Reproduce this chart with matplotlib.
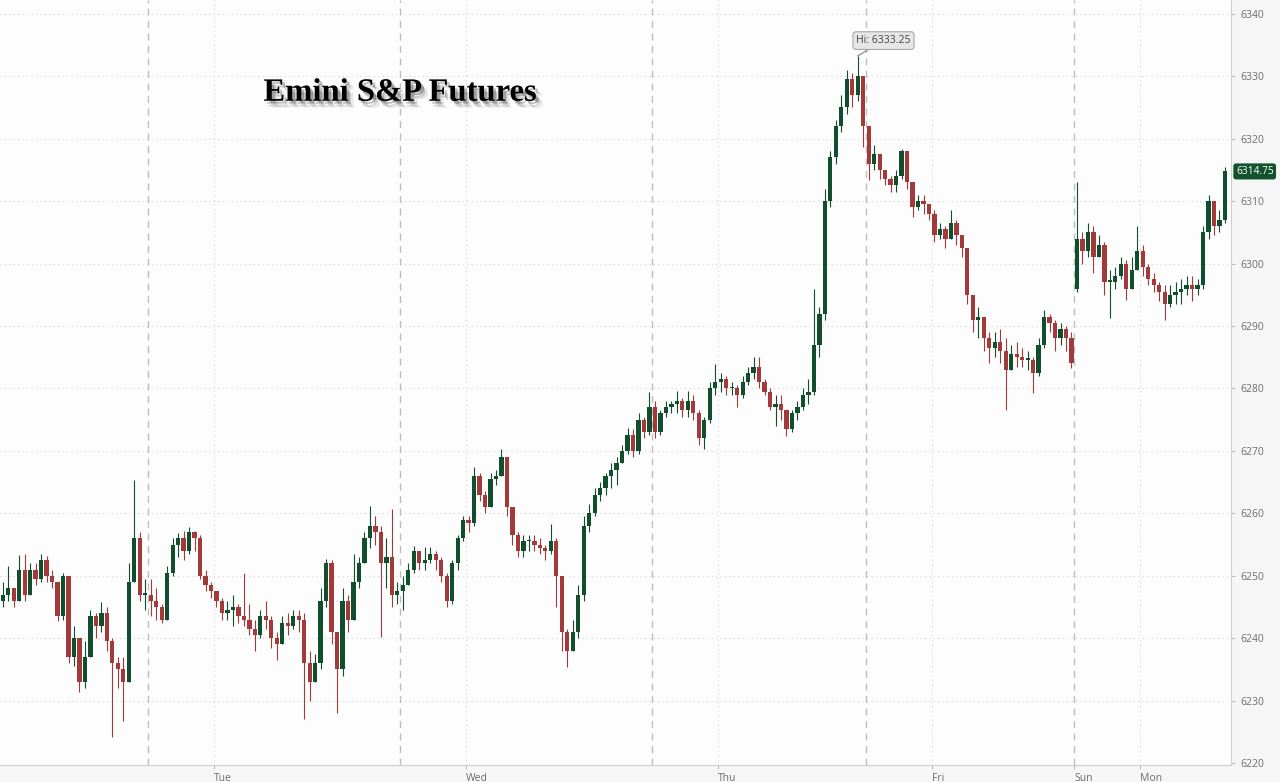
import numpy as np
import matplotlib
matplotlib.use("Agg")
import matplotlib.pyplot as plt
import matplotlib.patheffects as pe

# 30-minute bars, Mon 04:30 ET -> Mon 08:30 ET (holiday week, compressed trading time)
closes = [
    6247, 6248, 6246, 6251, 6247, 6251, 6249.5, 6252.5, 6250, 6249, 6243.5, 6250, 6237, 6240,
    6233, 6237, 6243.5, 6242, 6244, 6239.5, 6236, 6235, 6233, 6249, 6256, 6247, 6247,
    # Tue session
    6246, 6245, 6243, 6250.5, 6255, 6256, 6254, 6257, 6256, 6250, 6248.5, 6247.5, 6246, 6244,
    6244.5, 6245, 6243.5, 6243, 6241.5, 6240.5, 6243.5, 6243, 6240, 6239, 6242.5, 6242, 6243.5,
    6243, 6236, 6233, 6236, 6246, 6252, 6241, 6235, 6246, 6243, 6249, 6252, 6256, 6258, 6257,
    6252, 6253, 6247, 6247.5,
    # Wed session
    6248.5, 6251, 6254, 6252, 6252.5, 6253.5, 6252.5, 6250, 6246, 6252, 6256, 6259, 6258.5, 6266,
    6263, 6261, 6265.5, 6266, 6269, 6261, 6256.5, 6254, 6255.5, 6255.5, 6255, 6254.5, 6254,
    6255.5, 6250, 6241, 6238, 6241, 6247, 6258, 6260, 6263, 6264, 6266, 6267, 6268, 6270, 6272.5,
    6270, 6275, 6273, 6277,
    # Thu session
    6273, 6276, 6277, 6277.5, 6278, 6276.5, 6278, 6276, 6272, 6275, 6280, 6281, 6281.5, 6280,
    6280, 6279, 6281, 6282.5, 6283.5, 6281, 6279.5, 6277, 6277.5, 6276.5, 6273.5, 6276, 6277,
    6279, 6279.5, 6287, 6292, 6310, 6317, 6322, 6325, 6329.5, 6327, 6330, 6322,
    # Fri session
    6316, 6317.5, 6315, 6313.5, 6312.5, 6314, 6318, 6313, 6309, 6310, 6309.5, 6308, 6304.5,
    6305.5, 6304, 6306.5, 6304.5, 6302.5, 6295, 6291, 6291.5, 6288, 6286.5, 6287.5, 6286, 6283,
    6285.5, 6285, 6284.5, 6284.5, 6282.5, 6287, 6291.5, 6290.5, 6288, 6289.5, 6288, 6284,
    # Sun/Mon session
    6304, 6302, 6305, 6301, 6303, 6297, 6297, 6298, 6300, 6296, 6299, 6302, 6299.5, 6297.5,
    6296.5, 6295.5, 6293.5, 6295, 6295.5, 6296, 6296.5, 6296, 6296.5, 6305, 6310, 6306, 6307,
    6314.75,
]
highs = [
    6249, 6251.5, 6248, 6253.3, 6253.5, 6252, 6252, 6253.5, 6253.2, 6251, 6249, 6250.5, 6250,
    6242, 6240, 6239.5, 6244.5, 6244, 6245.8, 6245, 6240, 6237, 6237, 6252, 6265.3, 6257, 6249.5,
    6249.5, 6248, 6245.5, 6251.5, 6256, 6256.8, 6257.2, 6257.8, 6257.2, 6256.5, 6251, 6249,
    6247.5, 6246.5, 6246, 6247, 6245.5, 6250.4, 6245.5, 6243, 6244.5, 6246, 6243.5, 6241, 6243.5,
    6244, 6244.5, 6244.5, 6244, 6238, 6237.5, 6248, 6252.7, 6252.5, 6241, 6248, 6247, 6253.5,
    6253, 6257, 6261.2, 6259.5, 6258, 6256, 6260.7, 6249,
    6250, 6252, 6254.8, 6253.5, 6254.6, 6254.6, 6254, 6253, 6250.5, 6252.5, 6256.5, 6259.5,
    6259.5, 6267.4, 6266.5, 6263.5, 6266.5, 6267, 6270.3, 6269, 6261, 6257, 6256.5, 6256.5,
    6256.5, 6256, 6255, 6258.3, 6256, 6250, 6241.5, 6243, 6248.5, 6259.5, 6261.5, 6264, 6265,
    6266.5, 6268, 6269, 6271, 6273.7, 6273.5, 6276, 6275.5, 6279.4,
    6278, 6276.5, 6278, 6278, 6279.6, 6278.5, 6279.6, 6279, 6276.5, 6275.5, 6281, 6283.9, 6282.5,
    6282, 6281, 6280.5, 6282, 6283.5, 6285, 6285, 6281.5, 6280, 6279, 6279, 6276.5, 6276.5, 6278,
    6280, 6281.5, 6296, 6293, 6312, 6318, 6323, 6327, 6331, 6330.5, 6333.25, 6330,
    6319, 6319, 6317, 6315, 6314, 6315, 6318.4, 6318, 6313, 6311, 6311, 6309, 6308.5, 6306.5,
    6306, 6308.5, 6307, 6304, 6302, 6295, 6293, 6290, 6289, 6289, 6289.5, 6288, 6287, 6287.5,
    6286.5, 6286, 6285, 6288, 6292.5, 6292, 6291, 6290.5, 6290, 6289,
    6313, 6305, 6306.5, 6306, 6304.5, 6303.5, 6299, 6299.5, 6301, 6300.5, 6301, 6306, 6303, 6300,
    6298.5, 6297, 6296.5, 6296.5, 6297, 6297.5, 6298, 6298, 6297.5, 6306, 6311, 6309.5, 6308.5,
    6315.5,
]
lows = [
    6245, 6246, 6245, 6246, 6246, 6247, 6248.5, 6249, 6249, 6248, 6242.8, 6243, 6236, 6235.5,
    6231.4, 6232, 6238, 6240, 6241, 6238, 6224.2, 6232, 6226.8, 6233, 6249, 6246, 6244.5,
    6243.5, 6243, 6242.4, 6243, 6250, 6253, 6252.5, 6253.5, 6254, 6249.5, 6247.5, 6246.5, 6245,
    6243, 6243, 6242, 6242.5, 6242, 6240.5, 6238, 6240, 6241.5, 6238.5, 6236.5, 6239, 6240.5,
    6241.5, 6241, 6227, 6230, 6233, 6235, 6245, 6239, 6228, 6234, 6241, 6243, 6248, 6252,
    6254.5, 6255, 6240.2, 6248, 6245, 6245.5,
    6244.5, 6248.5, 6250.5, 6251, 6251, 6252, 6251, 6249, 6245, 6245.5, 6251, 6255.5, 6257, 6258,
    6262, 6260, 6261, 6264.5, 6266, 6259.5, 6255, 6253, 6253, 6254, 6254, 6253.5, 6252.5, 6253.5,
    6245, 6238, 6235.4, 6238, 6240, 6246, 6257, 6259.5, 6262, 6263, 6264, 6264.5, 6268, 6269.5,
    6269, 6269.5, 6272, 6272.5,
    6272, 6272.5, 6275.5, 6276, 6276, 6275.5, 6275.5, 6275, 6271, 6270.3, 6274.5, 6279, 6279.5,
    6279, 6279, 6277, 6278.5, 6280.5, 6281.5, 6280, 6279, 6276.5, 6274, 6275, 6272.4, 6273, 6275,
    6276.5, 6277.5, 6279, 6285, 6291, 6309, 6316, 6321, 6324, 6325, 6326, 6318.7,
    6313.3, 6315, 6313.5, 6312.5, 6311.5, 6311.5, 6313.5, 6312, 6307.4, 6308.5, 6308, 6307,
    6303.5, 6304, 6302.5, 6304, 6303, 6301, 6293.5, 6289, 6288, 6286, 6284, 6285, 6284, 6276.6,
    6283.5, 6283.5, 6283.5, 6283, 6279.3, 6282, 6286.5, 6289, 6286, 6287, 6286, 6283.3,
    6295.5, 6300, 6301, 6298.5, 6301, 6295, 6291.3, 6296, 6297.5, 6294.2, 6296, 6299, 6298,
    6296.5, 6295.5, 6294, 6291, 6293, 6293.5, 6293.5, 6295, 6294, 6295, 6296, 6304, 6304.5, 6305,
    6306.5,
]
first_open = 6246
gap_opens = {196: 6296}          # Sunday evening re-open

session_starts = [27, 73, 119, 158, 196]
day_ticks = [39, 85, 131, 170, 196, 208]
day_labels = ["Tue", "Wed", "Thu", "Fri", "Sun", "Mon"]
hi_bar, hi_value = 156, 6333.25

closes = np.array(closes)
highs = np.array(highs)
lows = np.array(lows)
opens = np.concatenate([[first_open], closes[:-1]])
for k, v in gap_opens.items():
    opens[k] = v
highs = np.maximum(highs, np.maximum(opens, closes))
lows = np.minimum(lows, np.minimum(opens, closes))
x = np.arange(len(closes)) + 0.5

UP, DOWN = "#114e2d", "#a33a3a"
cols = np.where(closes >= opens, UP, DOWN)

fig = plt.figure(figsize=(12.8, 7.82), dpi=100, facecolor="#f6f6f6")
ax = fig.add_axes([0, 0.0217, 0.9617, 0.9783])
ax.set_facecolor("#fdfdfd")

# grid
for v in range(6230, 6341, 10):
    ax.axhline(v, color="#d2d2d2", lw=0.8, ls=(0, (1, 3)), zorder=0)
for d in day_ticks:
    if d not in session_starts:
        ax.axvline(d, color="#d2d2d2", lw=0.8, ls=(0, (1, 3)), zorder=0)
for s in session_starts:
    ax.axvline(s, color="#bdbdbd", lw=1, ls=(0, (5, 4)), zorder=0)

# candles
ax.vlines(x, lows, highs, colors=cols, lw=0.8, zorder=2)
body = np.maximum(np.abs(closes - opens), 0.3)
ax.bar(x, body, bottom=np.minimum(opens, closes), width=0.78, color=cols, lw=0, zorder=3)

ax.set_xlim(0, 224.6)
ax.set_ylim(6219.7, 6342.2)

ax.yaxis.tick_right()
ax.set_yticks(range(6220, 6341, 10))
ax.set_xticks(day_ticks)
ax.set_xticklabels(day_labels, ha="left")
ax.tick_params(axis="both", colors="#bbbbbb", labelcolor="#6e6e6e", labelsize=7.5, length=3)
ax.tick_params(axis="x", pad=3)
for lab in ax.get_xticklabels() + ax.get_yticklabels():
    lab.set_fontfamily("Open Sans")
for side in ["top", "left"]:
    ax.spines[side].set_visible(False)
for side in ["right", "bottom"]:
    ax.spines[side].set_color("#cfcfcf")

# high annotation
ax.annotate(f"Hi: {hi_value:.2f}", xy=(hi_bar + 0.5, hi_value), xytext=(hi_bar + 5.2, 6335.7),
            ha="center", va="center", fontsize=7.5, color="#444444", fontfamily="Open Sans",
            bbox=dict(boxstyle="round,pad=0.32", fc="#e6e6e6", ec="#a9a9a9", lw=0.8),
            arrowprops=dict(arrowstyle="-", color="#999999", lw=1, shrinkA=0, shrinkB=0),
            zorder=5)

# last price tag
ax.text(1.004, closes[-1], f"{closes[-1]:.2f}", transform=ax.get_yaxis_transform(),
        ha="left", va="center", fontsize=7.3, color="white", fontfamily="Open Sans",
        bbox=dict(boxstyle="round,pad=0.25", fc="#12532e", ec="none"), clip_on=False)

# title with soft shadow
fig.text(0.3125, 0.882, "Emini S&P Futures", ha="center", va="center",
         fontfamily="Liberation Serif", fontweight="bold", fontsize=23.5, color="black",
         path_effects=[pe.SimplePatchShadow(offset=(2, -2), alpha=0.25),
                       pe.SimplePatchShadow(offset=(3, -4), alpha=0.15),
                       pe.SimplePatchShadow(offset=(5, -5), alpha=0.08),
                       pe.Normal()])

fig.savefig("out.png", dpi=100, facecolor=fig.get_facecolor())
